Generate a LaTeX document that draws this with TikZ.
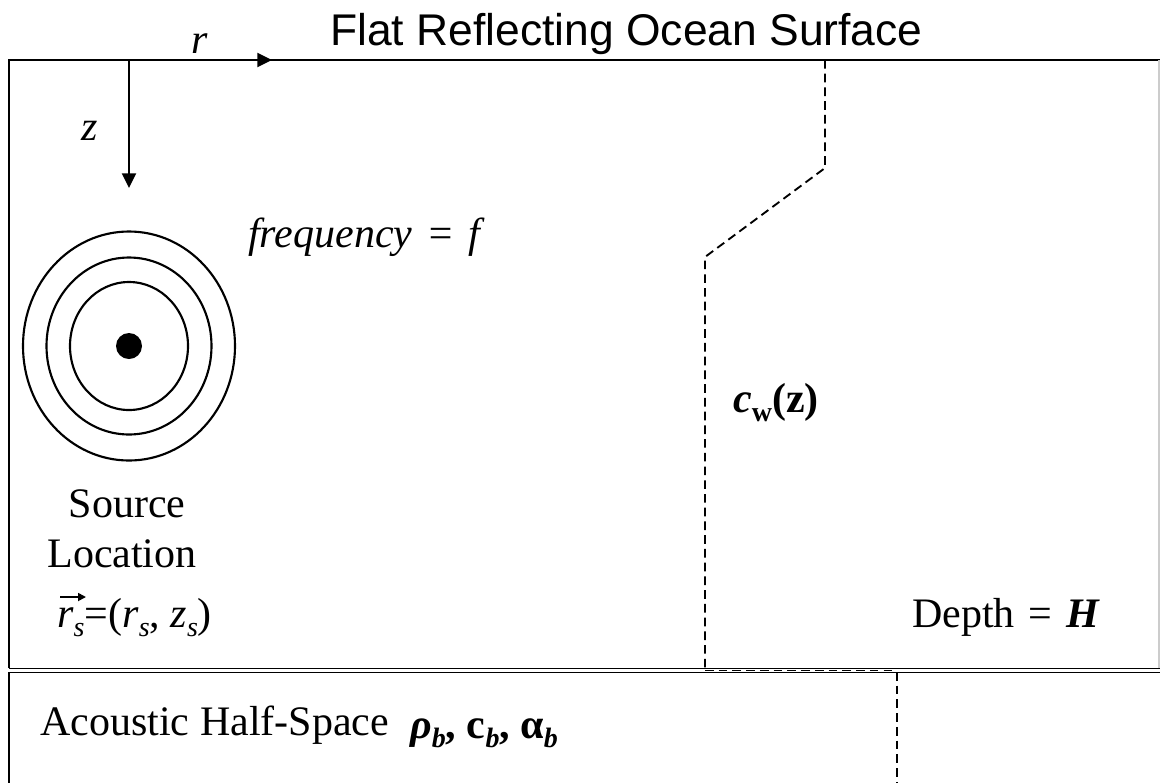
\documentclass[tikz,border=0pt]{standalone}
\usepackage{fontspec}
\setmainfont{Liberation Serif}
\newfontfamily\arialf{Liberation Sans}
\usetikzlibrary{arrows.meta}
\newcommand{\mysub}[1]{\raisebox{-0.22em}{\fontsize{21}{21}\selectfont #1}}
\newcommand{\wsp}{\hspace{0.33em}}
\begin{document}
\begin{tikzpicture}[x=0.75pt,y=-0.75pt,
  frame/.style={line width=2pt},
  ring/.style={line width=1.6pt},
  dashline/.style={line width=1.4pt,dash pattern=on 6.5pt off 3.8pt},
  axisarrow/.style={line width=1.6pt,-{Triangle[length=11pt,width=10.5pt]}},
  txt/.style={inner sep=0pt,font=\fontsize{31.5}{38}\selectfont},
  ttl/.style={inner sep=0pt,font=\fontsize{33.3}{40}\selectfont\arialf}]
\useasboundingbox (0,0) rectangle (1160,783);
% frame
\draw[frame] (9,668) -- (9,60) -- (1160,60);
\draw[gray!40,line width=0.8pt] (1159,60) -- (1159,668);
\draw[line width=1.4pt] (9,668.5) -- (1160,668.5);
\draw[line width=1.4pt] (9,672.5) -- (1160,672.5);
\draw[frame] (9,672) -- (9,783);
% axes
\coordinate (O) at (129,60);
\coordinate (rend) at (272,60);
\coordinate (zend) at (129,188);
\draw[axisarrow] (O) -- (rend);
\draw[axisarrow] (O) -- (zend);
% source
\coordinate (S) at (129,346);
\draw[ring] (S) ellipse [x radius=59, y radius=64];
\draw[ring] (S) ellipse [x radius=82.5, y radius=88.5];
\draw[ring] (S) ellipse [x radius=106, y radius=114.5];
\fill (S) circle [radius=13];
% sound speed profile
\coordinate (p1) at (825,60);
\coordinate (p2) at (825,168);
\coordinate (p3) at (705,257);
\coordinate (p4) at (705,668);
\coordinate (p5) at (705,670.5);
\coordinate (p6) at (897,670.5);
\coordinate (p7) at (897,672);
\coordinate (p8) at (897,783);
\draw[dashline] (p1) -- (p2) -- (p3) -- (p4);
\draw[dashline] (p5) -- (p6);
\draw[dashline] (p7) -- (p8);
% texts
\node[ttl,anchor=base west] (title) at (330,45) {Flat Reflecting Ocean Surface};
\node[txt,anchor=base] (rlab) at (200,53) {\textit{r}};
\node[txt,anchor=base] (zlab) at (90,140) {\textit{z}};
\node[txt,anchor=base west] (freq) at (248,247) {\textit{frequency\wsp=\wsp f}};
\node[txt,anchor=base] (src1) at (127,517) {Source};
\node[txt,anchor=base] (src2) at (122,567) {Location};
\node[txt,anchor=base west] (src3) at (57,627) {\textit{r}\mysub{\textit{s}}=(\textit{r}\mysub{\textit{s}}, \textit{z}\mysub{\textit{s}})};
\coordinate (va) at (60,597);
\coordinate (vb) at (86,597);
\draw[line width=1.3pt,-{Triangle[length=6pt,width=6pt]}] (va) -- (vb);
\node[txt,anchor=base west] (cw) at (733,412) {\textbf{\textit{c}}\mysub{\textbf{w}}\textbf{(z)}};
\node[txt,anchor=base west] (depth) at (912,627) {Depth\wsp=\wsp\textbf{\textit{H}}};
\node[txt,anchor=base west] (half) at (40,735) {Acoustic Half-Space};
\node[txt,anchor=base west] (props) at (410,738) {\textbf{\textit{ρ}}\mysub{\textbf{\textit{b}}}\textbf{, c}\mysub{\textbf{\textit{b}}}\textbf{, α}\mysub{\textbf{\textit{b}}}};
\end{tikzpicture}
\end{document}
